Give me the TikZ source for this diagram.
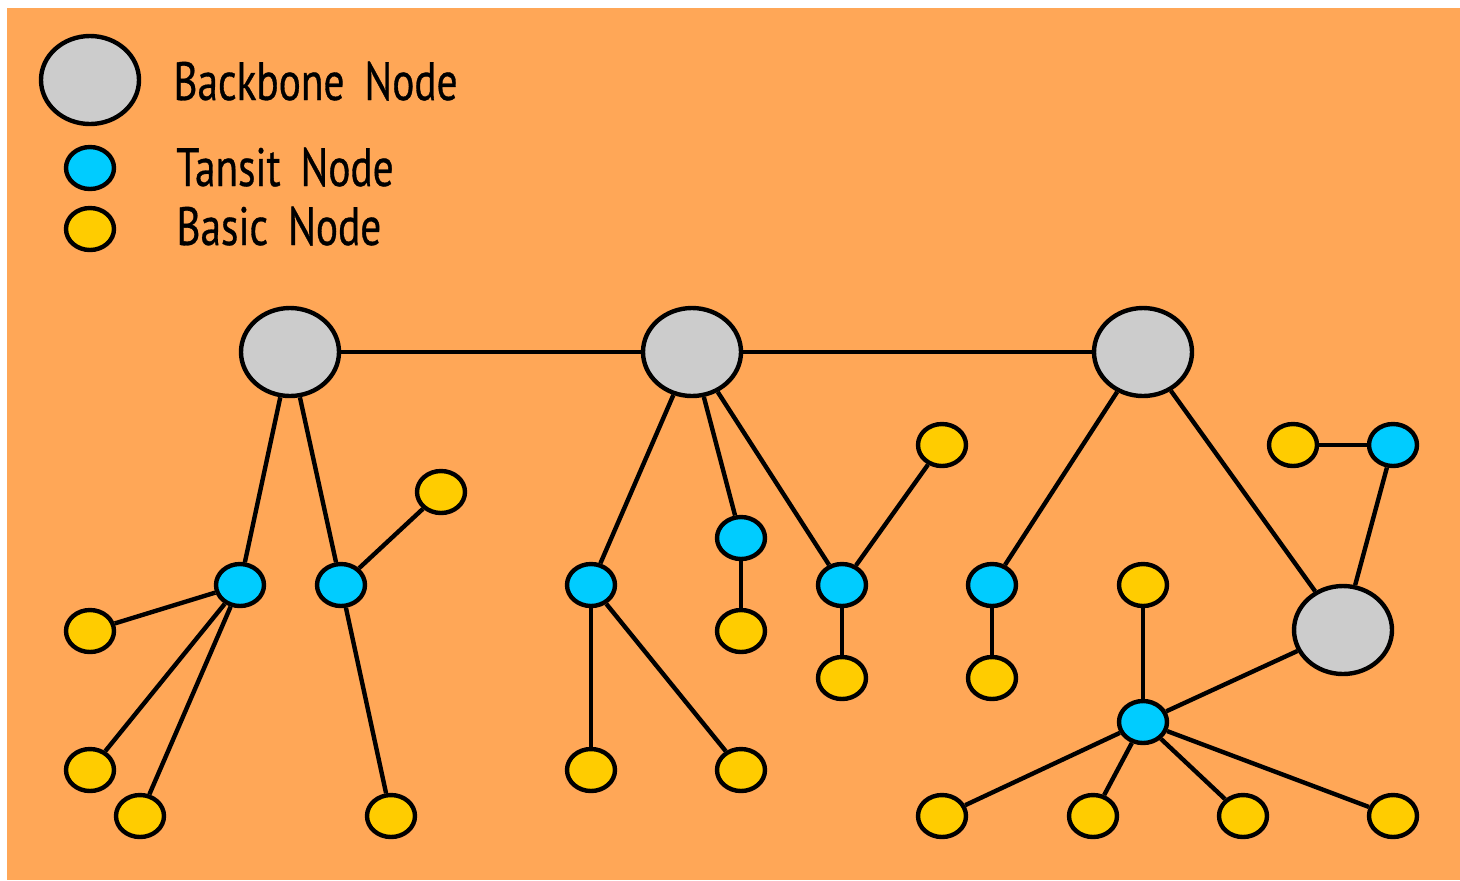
\documentclass[tikz,border=0pt]{standalone}
\usepackage{fontspec}
\setmainfont[FakeStretch=0.765,FakeBold=0.6]{PT Sans}
\usetikzlibrary{shapes.geometric}
\definecolor{bgorange}{HTML}{FFA757}
\definecolor{bbgray}{HTML}{CCCCCC}
\definecolor{trcyan}{HTML}{00CCFF}
\definecolor{bsyellow}{HTML}{FFCC00}
\tikzset{
  netnode/.style={ellipse, draw=black, line width=2.2pt, inner sep=0pt},
  backbone/.style={netnode, fill=bbgray, minimum width=49pt, minimum height=44pt},
  transit/.style={netnode, fill=trcyan, minimum width=24pt, minimum height=21pt},
  basic/.style={netnode, fill=bsyellow, minimum width=24pt, minimum height=21pt},
  link/.style={draw=black, line width=2.2pt},
  legendtext/.style={anchor=base west, inner sep=0pt, font=\fontsize{27}{30}\selectfont}
}
\begin{document}
\begin{tikzpicture}[x=0.5pt,y=-0.5pt]
\useasboundingbox (0,0) rectangle (1460,880);
\fill[bgorange] (7,8) rectangle (1460,880);

% legend
\node[backbone] (lbb) at (90,80) {};
\node[transit] (ltr) at (90,168) {};
\node[basic] (lbs) at (90,229) {};
\node[legendtext] (lbbt) at (173,100) {Backbone\, Node};
\node[legendtext] (ltrt) at (176,186) {Tansit\, Node};
\node[legendtext] (lbst) at (176,245) {Basic\, Node};

% backbone nodes
\node[backbone] (B1) at (290,352) {};
\node[backbone] (B2) at (692,352) {};
\node[backbone] (B3) at (1143,352) {};
\node[backbone] (B4) at (1343,630) {};

% transit nodes
\node[transit] (T1) at (240,585) {};
\node[transit] (T2) at (341,585) {};
\node[transit] (T3) at (591,585) {};
\node[transit] (T4) at (741,538) {};
\node[transit] (T5) at (842,585) {};
\node[transit] (T6) at (992,585) {};
\node[transit] (T7) at (1143,722) {};
\node[transit] (T8) at (1393,445) {};

% basic nodes
\node[basic] (b1) at (90,631) {};
\node[basic] (b2) at (90,770) {};
\node[basic] (b3) at (140,816) {};
\node[basic] (b4) at (441,492) {};
\node[basic] (b5) at (391,816) {};
\node[basic] (b6) at (591,770) {};
\node[basic] (b7) at (741,770) {};
\node[basic] (b8) at (741,631) {};
\node[basic] (b9) at (942,445) {};
\node[basic] (b10) at (842,678) {};
\node[basic] (b11) at (992,678) {};
\node[basic] (b12) at (1143,585) {};
\node[basic] (b13) at (1293,445) {};
\node[basic] (b14) at (942,816) {};
\node[basic] (b15) at (1093,816) {};
\node[basic] (b16) at (1243,816) {};
\node[basic] (b17) at (1393,816) {};

% links
\draw[link] (B1) -- (B2);
\draw[link] (B2) -- (B3);
\draw[link] (B1) -- (T1);
\draw[link] (B1) -- (T2);
\draw[link] (T1) -- (b1);
\draw[link] (T1) -- (b2);
\draw[link] (T1) -- (b3);
\draw[link] (T2) -- (b4);
\draw[link] (T2) -- (b5);
\draw[link] (B2) -- (T3);
\draw[link] (B2) -- (T4);
\draw[link] (B2) -- (T5);
\draw[link] (T3) -- (b6);
\draw[link] (T3) -- (b7);
\draw[link] (T4) -- (b8);
\draw[link] (T5) -- (b9);
\draw[link] (T5) -- (b10);
\draw[link] (B3) -- (T6);
\draw[link] (B3) -- (B4);
\draw[link] (T6) -- (b11);
\draw[link] (B4) -- (T8);
\draw[link] (T8) -- (b13);
\draw[link] (B4) -- (T7);
\draw[link] (T7) -- (b12);
\draw[link] (T7) -- (b14);
\draw[link] (T7) -- (b15);
\draw[link] (T7) -- (b16);
\draw[link] (T7) -- (b17);
\end{tikzpicture}
\end{document}
